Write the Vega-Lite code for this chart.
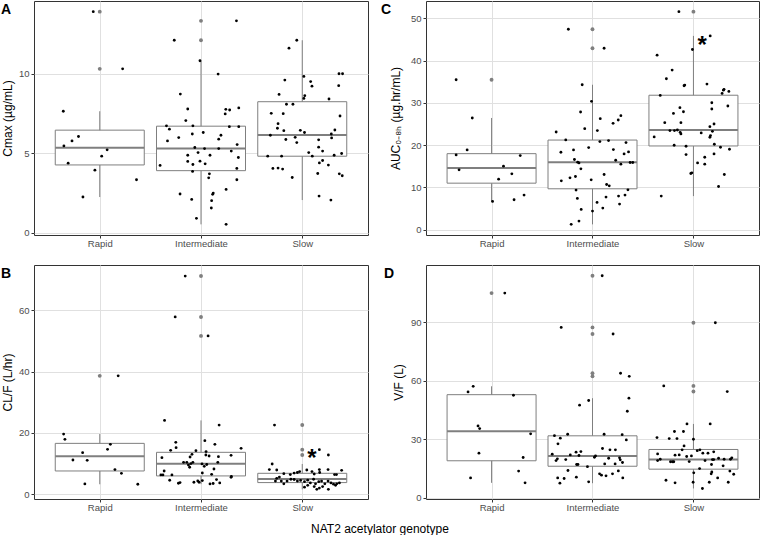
{
"$schema":"https://vega.github.io/schema/vega-lite/v6.json",
"padding":0,
"background":"#ffffff",
"title":{"text":"NAT2 acetylator genotype","orient":"bottom","anchor":"middle","frame":"bounds","fontSize":12,"fontWeight":"normal","font":"Liberation Sans","color":"#000000","offset":12},
"config":{
 "font":"Liberation Sans",
 "view":{"stroke":"#333333","strokeWidth":1},
 "axis":{"domain":false,"tickColor":"#333333","tickSize":3,"tickWidth":1,"labelFont":"Liberation Sans","labelFontSize":9.5,"labelColor":"#4d4d4d","titleFont":"Liberation Sans","titleFontSize":12,"titleFontWeight":"normal","titleColor":"#000000","gridColor":"#e0e0e0","gridWidth":1,"labelPadding":2,"titlePadding":4},
 "axisX":{"labelAngle":0,"labelPadding":0}
},
"datasets":{
"boxes":[
{"panel":"A","genotype":"Rapid","lo":2.24,"q1":4.26,"median":5.34,"q3":6.45,"hi":7.64},
{"panel":"A","genotype":"Intermediate","lo":0.52,"q1":3.9,"median":5.29,"q3":6.7,"hi":10.82},
{"panel":"A","genotype":"Slow","lo":2.05,"q1":4.81,"median":6.14,"q3":8.24,"hi":12.11},
{"panel":"C","genotype":"Rapid","lo":6.68,"q1":11.0,"median":14.6,"q3":17.98,"hi":26.42},
{"panel":"C","genotype":"Intermediate","lo":1.26,"q1":9.67,"median":15.95,"q3":21.2,"hi":34.28},
{"panel":"C","genotype":"Slow","lo":7.94,"q1":19.8,"median":23.6,"q3":31.8,"hi":45.83},
{"panel":"B","genotype":"Rapid","lo":3.25,"q1":7.59,"median":12.36,"q3":16.59,"hi":19.63},
{"panel":"B","genotype":"Intermediate","lo":3.3,"q1":5.97,"median":9.98,"q3":13.67,"hi":24.08},
{"panel":"B","genotype":"Slow","lo":1.6,"q1":3.8,"median":4.99,"q3":6.83,"hi":9.87},
{"panel":"D","genotype":"Rapid","lo":7.7,"q1":19.0,"median":34.2,"q3":52.9,"hi":57.2},
{"panel":"D","genotype":"Intermediate","lo":7.5,"q1":16.2,"median":21.5,"q3":31.8,"hi":51.1},
{"panel":"D","genotype":"Slow","lo":4.8,"q1":14.7,"median":19.6,"q3":24.8,"hi":37.9}
],
"outliers":[
{"panel":"A","genotype":"Rapid","value":10.31},{"panel":"A","genotype":"Rapid","value":13.91},
{"panel":"A","genotype":"Intermediate","value":12.11},{"panel":"A","genotype":"Intermediate","value":13.33},
{"panel":"C","genotype":"Rapid","value":35.46},{"panel":"C","genotype":"Intermediate","value":42.92},{"panel":"C","genotype":"Intermediate","value":47.41},{"panel":"C","genotype":"Slow","value":51.57},
{"panel":"B","genotype":"Rapid","value":38.6},{"panel":"B","genotype":"Intermediate","value":51.63},{"panel":"B","genotype":"Intermediate","value":57.81},{"panel":"B","genotype":"Intermediate","value":71.15},{"panel":"B","genotype":"Slow","value":12.8},{"panel":"B","genotype":"Slow","value":14.53},{"panel":"B","genotype":"Slow","value":22.56},
{"panel":"D","genotype":"Rapid","value":105.0},{"panel":"D","genotype":"Intermediate","value":62.3},{"panel":"D","genotype":"Intermediate","value":63.9},{"panel":"D","genotype":"Intermediate","value":84.0},{"panel":"D","genotype":"Intermediate","value":87.4},{"panel":"D","genotype":"Intermediate","value":113.9},{"panel":"D","genotype":"Slow","value":54.5},{"panel":"D","genotype":"Slow","value":57.4},{"panel":"D","genotype":"Slow","value":89.8}
],
"notes":[
{"panel":"C","genotype":"Slow","value":45.1,"jitter":0.086,"label":"*"},
{"panel":"B","genotype":"Slow","value":13.67,"jitter":0.096,"label":"*"}
],
"points":[
{"panel":"A","genotype":"Rapid","value":13.91,"jitter":-0.064},{"panel":"A","genotype":"Rapid","value":10.31,"jitter":0.226},{"panel":"A","genotype":"Rapid","value":7.64,"jitter":-0.36},{"panel":"A","genotype":"Rapid","value":5.46,"jitter":-0.354},{"panel":"A","genotype":"Rapid","value":5.77,"jitter":-0.274},{"panel":"A","genotype":"Rapid","value":6.05,"jitter":-0.21},{"panel":"A","genotype":"Rapid","value":4.37,"jitter":-0.312},{"panel":"A","genotype":"Rapid","value":4.81,"jitter":0.019},{"panel":"A","genotype":"Rapid","value":5.21,"jitter":0.073},{"panel":"A","genotype":"Rapid","value":3.93,"jitter":-0.048},{"panel":"A","genotype":"Rapid","value":2.24,"jitter":-0.166},{"panel":"A","genotype":"Rapid","value":3.33,"jitter":0.363},
{"panel":"A","genotype":"Intermediate","value":12.11,"jitter":-0.264},{"panel":"A","genotype":"Intermediate","value":10.82,"jitter":-0.01},{"panel":"A","genotype":"Intermediate","value":8.72,"jitter":-0.204},{"panel":"A","genotype":"Intermediate","value":7.78,"jitter":-0.131},{"panel":"A","genotype":"Intermediate","value":7.05,"jitter":-0.15},{"panel":"A","genotype":"Intermediate","value":6.72,"jitter":-0.341},{"panel":"A","genotype":"Intermediate","value":6.51,"jitter":-0.312},{"panel":"A","genotype":"Intermediate","value":6.72,"jitter":-0.08},{"panel":"A","genotype":"Intermediate","value":6.21,"jitter":-0.086},{"panel":"A","genotype":"Intermediate","value":5.98,"jitter":-0.22},{"panel":"A","genotype":"Intermediate","value":5.77,"jitter":-0.331},{"panel":"A","genotype":"Intermediate","value":5.36,"jitter":-0.061},{"panel":"A","genotype":"Intermediate","value":5.04,"jitter":-0.029},{"panel":"A","genotype":"Intermediate","value":4.87,"jitter":-0.131},{"panel":"A","genotype":"Intermediate","value":4.48,"jitter":-0.131},{"panel":"A","genotype":"Intermediate","value":4.29,"jitter":-0.08},{"panel":"A","genotype":"Intermediate","value":3.85,"jitter":-0.083},{"panel":"A","genotype":"Intermediate","value":4.23,"jitter":-0.404},{"panel":"A","genotype":"Intermediate","value":2.43,"jitter":-0.207},{"panel":"A","genotype":"Intermediate","value":2.09,"jitter":-0.092},{"panel":"A","genotype":"Intermediate","value":0.9,"jitter":-0.045},{"panel":"A","genotype":"Intermediate","value":13.33,"jitter":0.35},{"panel":"A","genotype":"Intermediate","value":9.98,"jitter":0.169},{"panel":"A","genotype":"Intermediate","value":7.76,"jitter":0.245},{"panel":"A","genotype":"Intermediate","value":7.72,"jitter":0.283},{"panel":"A","genotype":"Intermediate","value":7.85,"jitter":0.373},{"panel":"A","genotype":"Intermediate","value":7.47,"jitter":0.239},{"panel":"A","genotype":"Intermediate","value":6.67,"jitter":0.28},{"panel":"A","genotype":"Intermediate","value":6.67,"jitter":0.373},{"panel":"A","genotype":"Intermediate","value":6.3,"jitter":0.022},{"panel":"A","genotype":"Intermediate","value":6.13,"jitter":0.197},{"panel":"A","genotype":"Intermediate","value":5.88,"jitter":0.175},{"panel":"A","genotype":"Intermediate","value":5.54,"jitter":0.357},{"panel":"A","genotype":"Intermediate","value":5.29,"jitter":0.035},{"panel":"A","genotype":"Intermediate","value":5.29,"jitter":0.175},{"panel":"A","genotype":"Intermediate","value":5.13,"jitter":0.299},{"panel":"A","genotype":"Intermediate","value":4.87,"jitter":0.089},{"panel":"A","genotype":"Intermediate","value":4.73,"jitter":0.369},{"panel":"A","genotype":"Intermediate","value":4.5,"jitter":-0.01},{"panel":"A","genotype":"Intermediate","value":4.33,"jitter":0.041},{"panel":"A","genotype":"Intermediate","value":4.04,"jitter":0.354},{"panel":"A","genotype":"Intermediate","value":3.7,"jitter":0.083},{"panel":"A","genotype":"Intermediate","value":3.45,"jitter":0.076},{"panel":"A","genotype":"Intermediate","value":3.33,"jitter":0.354},{"panel":"A","genotype":"Intermediate","value":2.49,"jitter":0.121},{"panel":"A","genotype":"Intermediate","value":2.41,"jitter":0.115},{"panel":"A","genotype":"Intermediate","value":2.72,"jitter":0.248},{"panel":"A","genotype":"Intermediate","value":2.01,"jitter":0.105},{"panel":"A","genotype":"Intermediate","value":1.55,"jitter":0.102},{"panel":"A","genotype":"Intermediate","value":0.52,"jitter":0.248},
{"panel":"A","genotype":"Slow","value":12.11,"jitter":-0.054},{"panel":"A","genotype":"Slow","value":11.61,"jitter":-0.131},{"panel":"A","genotype":"Slow","value":9.83,"jitter":0.016},{"panel":"A","genotype":"Slow","value":9.6,"jitter":-0.172},{"panel":"A","genotype":"Slow","value":9.51,"jitter":0.083},{"panel":"A","genotype":"Slow","value":9.22,"jitter":0.096},{"panel":"A","genotype":"Slow","value":10.0,"jitter":0.363},{"panel":"A","genotype":"Slow","value":10.0,"jitter":0.398},{"panel":"A","genotype":"Slow","value":9.25,"jitter":0.36},{"panel":"A","genotype":"Slow","value":8.7,"jitter":-0.229},{"panel":"A","genotype":"Slow","value":8.62,"jitter":0.025},{"panel":"A","genotype":"Slow","value":8.45,"jitter":0.016},{"panel":"A","genotype":"Slow","value":8.08,"jitter":-0.156},{"panel":"A","genotype":"Slow","value":8.08,"jitter":-0.092},{"panel":"A","genotype":"Slow","value":8.41,"jitter":0.264},{"panel":"A","genotype":"Slow","value":7.51,"jitter":-0.306},{"panel":"A","genotype":"Slow","value":7.49,"jitter":-0.188},{"panel":"A","genotype":"Slow","value":6.86,"jitter":-0.239},{"panel":"A","genotype":"Slow","value":6.57,"jitter":-0.245},{"panel":"A","genotype":"Slow","value":6.42,"jitter":-0.182},{"panel":"A","genotype":"Slow","value":7.34,"jitter":0.373},{"panel":"A","genotype":"Slow","value":6.13,"jitter":-0.315},{"panel":"A","genotype":"Slow","value":6.44,"jitter":-0.019},{"panel":"A","genotype":"Slow","value":6.3,"jitter":0.022},{"panel":"A","genotype":"Slow","value":5.86,"jitter":-0.162},{"panel":"A","genotype":"Slow","value":6.0,"jitter":-0.07},{"panel":"A","genotype":"Slow","value":5.67,"jitter":-0.054},{"panel":"A","genotype":"Slow","value":6.21,"jitter":0.287},{"panel":"A","genotype":"Slow","value":6.46,"jitter":0.322},{"panel":"A","genotype":"Slow","value":5.96,"jitter":0.29},{"panel":"A","genotype":"Slow","value":5.84,"jitter":0.162},{"panel":"A","genotype":"Slow","value":5.38,"jitter":0.162},{"panel":"A","genotype":"Slow","value":5.04,"jitter":0.064},{"panel":"A","genotype":"Slow","value":5.13,"jitter":0.201},{"panel":"A","genotype":"Slow","value":4.81,"jitter":0.099},{"panel":"A","genotype":"Slow","value":4.81,"jitter":-0.204},{"panel":"A","genotype":"Slow","value":4.81,"jitter":-0.341},{"panel":"A","genotype":"Slow","value":4.87,"jitter":0.315},{"panel":"A","genotype":"Slow","value":4.98,"jitter":0.389},{"panel":"A","genotype":"Slow","value":4.54,"jitter":0.201},{"panel":"A","genotype":"Slow","value":4.39,"jitter":0.169},{"panel":"A","genotype":"Slow","value":4.25,"jitter":0.258},{"panel":"A","genotype":"Slow","value":4.04,"jitter":-0.29},{"panel":"A","genotype":"Slow","value":4.06,"jitter":-0.239},{"panel":"A","genotype":"Slow","value":4.0,"jitter":-0.194},{"panel":"A","genotype":"Slow","value":3.72,"jitter":0.153},{"panel":"A","genotype":"Slow","value":3.7,"jitter":0.366},{"panel":"A","genotype":"Slow","value":3.58,"jitter":0.395},{"panel":"A","genotype":"Slow","value":3.47,"jitter":-0.099},{"panel":"A","genotype":"Slow","value":2.3,"jitter":0.166},{"panel":"A","genotype":"Slow","value":2.05,"jitter":0.283},
{"panel":"C","genotype":"Rapid","value":35.46,"jitter":-0.351},{"panel":"C","genotype":"Rapid","value":26.42,"jitter":-0.191},{"panel":"C","genotype":"Rapid","value":18.87,"jitter":-0.242},{"panel":"C","genotype":"Rapid","value":17.69,"jitter":-0.351},{"panel":"C","genotype":"Rapid","value":14.15,"jitter":-0.322},{"panel":"C","genotype":"Rapid","value":15.02,"jitter":0.118},{"panel":"C","genotype":"Rapid","value":11.95,"jitter":0.07},{"panel":"C","genotype":"Rapid","value":13.21,"jitter":0.201},{"panel":"C","genotype":"Rapid","value":17.53,"jitter":0.284},{"panel":"C","genotype":"Rapid","value":6.68,"jitter":0.01},{"panel":"C","genotype":"Rapid","value":7.08,"jitter":0.223},{"panel":"C","genotype":"Rapid","value":8.18,"jitter":0.322},
{"panel":"C","genotype":"Intermediate","value":47.41,"jitter":-0.239},{"panel":"C","genotype":"Intermediate","value":34.28,"jitter":-0.102},{"panel":"C","genotype":"Intermediate","value":30.35,"jitter":-0.01},{"panel":"C","genotype":"Intermediate","value":27.83,"jitter":-0.118},{"panel":"C","genotype":"Intermediate","value":23.9,"jitter":-0.077},{"panel":"C","genotype":"Intermediate","value":23.11,"jitter":-0.36},{"panel":"C","genotype":"Intermediate","value":21.23,"jitter":-0.265},{"panel":"C","genotype":"Intermediate","value":18.32,"jitter":-0.313},{"panel":"C","genotype":"Intermediate","value":18.87,"jitter":-0.188},{"panel":"C","genotype":"Intermediate","value":19.42,"jitter":-0.038},{"panel":"C","genotype":"Intermediate","value":16.59,"jitter":-0.179},{"panel":"C","genotype":"Intermediate","value":15.96,"jitter":-0.147},{"panel":"C","genotype":"Intermediate","value":15.8,"jitter":-0.134},{"panel":"C","genotype":"Intermediate","value":14.39,"jitter":-0.115},{"panel":"C","genotype":"Intermediate","value":12.58,"jitter":-0.169},{"panel":"C","genotype":"Intermediate","value":11.56,"jitter":-0.309},{"panel":"C","genotype":"Intermediate","value":11.79,"jitter":-0.013},{"panel":"C","genotype":"Intermediate","value":9.36,"jitter":-0.163},{"panel":"C","genotype":"Intermediate","value":7.39,"jitter":-0.15},{"panel":"C","genotype":"Intermediate","value":4.8,"jitter":-0.112},{"panel":"C","genotype":"Intermediate","value":2.04,"jitter":-0.134},{"panel":"C","genotype":"Intermediate","value":1.26,"jitter":-0.211},{"panel":"C","genotype":"Intermediate","value":12.26,"jitter":-0.223},{"panel":"C","genotype":"Intermediate","value":42.92,"jitter":0.115},{"panel":"C","genotype":"Intermediate","value":26.26,"jitter":0.077},{"panel":"C","genotype":"Intermediate","value":26.97,"jitter":0.281},{"panel":"C","genotype":"Intermediate","value":25.94,"jitter":0.255},{"panel":"C","genotype":"Intermediate","value":25.16,"jitter":0.204},{"panel":"C","genotype":"Intermediate","value":23.43,"jitter":0.048},{"panel":"C","genotype":"Intermediate","value":21.07,"jitter":0.159},{"panel":"C","genotype":"Intermediate","value":20.6,"jitter":0.332},{"panel":"C","genotype":"Intermediate","value":20.83,"jitter":0.073},{"panel":"C","genotype":"Intermediate","value":18.95,"jitter":0.207},{"panel":"C","genotype":"Intermediate","value":18.4,"jitter":0.357},{"panel":"C","genotype":"Intermediate","value":17.92,"jitter":0.313},{"panel":"C","genotype":"Intermediate","value":16.43,"jitter":0.23},{"panel":"C","genotype":"Intermediate","value":15.49,"jitter":0.281},{"panel":"C","genotype":"Intermediate","value":15.88,"jitter":0.373},{"panel":"C","genotype":"Intermediate","value":15.88,"jitter":0.399},{"panel":"C","genotype":"Intermediate","value":13.05,"jitter":0.115},{"panel":"C","genotype":"Intermediate","value":10.69,"jitter":0.14},{"panel":"C","genotype":"Intermediate","value":10.38,"jitter":0.166},{"panel":"C","genotype":"Intermediate","value":9.43,"jitter":0.351},{"panel":"C","genotype":"Intermediate","value":8.18,"jitter":0.322},{"panel":"C","genotype":"Intermediate","value":7.94,"jitter":0.258},{"panel":"C","genotype":"Intermediate","value":7.7,"jitter":0.134},{"panel":"C","genotype":"Intermediate","value":6.45,"jitter":0.045},{"panel":"C","genotype":"Intermediate","value":6.05,"jitter":0.268},{"panel":"C","genotype":"Intermediate","value":5.11,"jitter":0.102},{"panel":"C","genotype":"Intermediate","value":4.4,"jitter":0.0},
{"panel":"C","genotype":"Slow","value":51.57,"jitter":-0.144},{"panel":"C","genotype":"Slow","value":45.83,"jitter":0.166},{"panel":"C","genotype":"Slow","value":42.61,"jitter":-0.01},{"panel":"C","genotype":"Slow","value":41.27,"jitter":-0.36},{"panel":"C","genotype":"Slow","value":37.74,"jitter":-0.211},{"panel":"C","genotype":"Slow","value":35.69,"jitter":-0.268},{"panel":"C","genotype":"Slow","value":34.04,"jitter":-0.093},{"panel":"C","genotype":"Slow","value":34.2,"jitter":-0.086},{"panel":"C","genotype":"Slow","value":34.43,"jitter":0.134},{"panel":"C","genotype":"Slow","value":31.76,"jitter":-0.329},{"panel":"C","genotype":"Slow","value":33.0,"jitter":0.297},{"panel":"C","genotype":"Slow","value":32.23,"jitter":0.284},{"panel":"C","genotype":"Slow","value":32.7,"jitter":0.351},{"panel":"C","genotype":"Slow","value":33.2,"jitter":0.303},{"panel":"C","genotype":"Slow","value":29.25,"jitter":0.341},{"panel":"C","genotype":"Slow","value":30.03,"jitter":0.182},{"panel":"C","genotype":"Slow","value":28.54,"jitter":0.182},{"panel":"C","genotype":"Slow","value":28.85,"jitter":-0.134},{"panel":"C","genotype":"Slow","value":27.9,"jitter":-0.099},{"panel":"C","genotype":"Slow","value":27.5,"jitter":-0.198},{"panel":"C","genotype":"Slow","value":25.31,"jitter":-0.284},{"panel":"C","genotype":"Slow","value":25.31,"jitter":-0.124},{"panel":"C","genotype":"Slow","value":25.0,"jitter":0.204},{"panel":"C","genotype":"Slow","value":24.37,"jitter":0.163},{"panel":"C","genotype":"Slow","value":23.43,"jitter":-0.233},{"panel":"C","genotype":"Slow","value":23.43,"jitter":-0.188},{"panel":"C","genotype":"Slow","value":23.58,"jitter":-0.159},{"panel":"C","genotype":"Slow","value":23.03,"jitter":-0.131},{"panel":"C","genotype":"Slow","value":22.64,"jitter":-0.124},{"panel":"C","genotype":"Slow","value":22.88,"jitter":0.077},{"panel":"C","genotype":"Slow","value":23.27,"jitter":0.188},{"panel":"C","genotype":"Slow","value":22.25,"jitter":0.169},{"panel":"C","genotype":"Slow","value":21.86,"jitter":0.163},{"panel":"C","genotype":"Slow","value":21.93,"jitter":-0.389},{"panel":"C","genotype":"Slow","value":20.2,"jitter":0.207},{"panel":"C","genotype":"Slow","value":19.97,"jitter":-0.191},{"panel":"C","genotype":"Slow","value":19.73,"jitter":-0.073},{"panel":"C","genotype":"Slow","value":19.5,"jitter":0.268},{"panel":"C","genotype":"Slow","value":19.02,"jitter":0.357},{"panel":"C","genotype":"Slow","value":17.77,"jitter":-0.073},{"panel":"C","genotype":"Slow","value":17.92,"jitter":0.204},{"panel":"C","genotype":"Slow","value":17.14,"jitter":0.112},{"panel":"C","genotype":"Slow","value":15.8,"jitter":0.041},{"panel":"C","genotype":"Slow","value":15.49,"jitter":0.112},{"panel":"C","genotype":"Slow","value":13.44,"jitter":-0.016},{"panel":"C","genotype":"Slow","value":13.29,"jitter":-0.026},{"panel":"C","genotype":"Slow","value":13.05,"jitter":0.306},{"panel":"C","genotype":"Slow","value":10.22,"jitter":0.249},{"panel":"C","genotype":"Slow","value":7.94,"jitter":-0.319},
{"panel":"B","genotype":"Rapid","value":38.6,"jitter":0.182},{"panel":"B","genotype":"Rapid","value":19.63,"jitter":-0.357},{"panel":"B","genotype":"Rapid","value":17.9,"jitter":-0.344},{"panel":"B","genotype":"Rapid","value":13.56,"jitter":-0.169},{"panel":"B","genotype":"Rapid","value":11.17,"jitter":-0.265},{"panel":"B","genotype":"Rapid","value":11.06,"jitter":-0.124},{"panel":"B","genotype":"Rapid","value":16.27,"jitter":0.105},{"panel":"B","genotype":"Rapid","value":14.64,"jitter":0.077},{"panel":"B","genotype":"Rapid","value":8.03,"jitter":0.15},{"panel":"B","genotype":"Rapid","value":6.83,"jitter":0.214},{"panel":"B","genotype":"Rapid","value":3.36,"jitter":-0.147},{"panel":"B","genotype":"Rapid","value":3.25,"jitter":0.376},
{"panel":"B","genotype":"Intermediate","value":71.15,"jitter":-0.156},{"panel":"B","genotype":"Intermediate","value":57.81,"jitter":-0.255},{"panel":"B","genotype":"Intermediate","value":24.08,"jitter":-0.36},{"panel":"B","genotype":"Intermediate","value":16.92,"jitter":-0.249},{"panel":"B","genotype":"Intermediate","value":15.18,"jitter":-0.246},{"panel":"B","genotype":"Intermediate","value":14.32,"jitter":-0.3},{"panel":"B","genotype":"Intermediate","value":13.02,"jitter":-0.089},{"panel":"B","genotype":"Intermediate","value":12.15,"jitter":-0.108},{"panel":"B","genotype":"Intermediate","value":11.93,"jitter":-0.386},{"panel":"B","genotype":"Intermediate","value":10.41,"jitter":-0.172},{"panel":"B","genotype":"Intermediate","value":10.41,"jitter":-0.14},{"panel":"B","genotype":"Intermediate","value":10.41,"jitter":-0.08},{"panel":"B","genotype":"Intermediate","value":9.54,"jitter":-0.124},{"panel":"B","genotype":"Intermediate","value":8.79,"jitter":-0.112},{"panel":"B","genotype":"Intermediate","value":7.59,"jitter":-0.364},{"panel":"B","genotype":"Intermediate","value":6.29,"jitter":-0.376},{"panel":"B","genotype":"Intermediate","value":6.29,"jitter":-0.396},{"panel":"B","genotype":"Intermediate","value":6.29,"jitter":-0.287},{"panel":"B","genotype":"Intermediate","value":4.56,"jitter":-0.309},{"panel":"B","genotype":"Intermediate","value":3.58,"jitter":-0.223},{"panel":"B","genotype":"Intermediate","value":3.8,"jitter":-0.207},{"panel":"B","genotype":"Intermediate","value":3.9,"jitter":-0.07},{"panel":"B","genotype":"Intermediate","value":4.34,"jitter":-0.032},{"panel":"B","genotype":"Intermediate","value":3.9,"jitter":-0.019},{"panel":"B","genotype":"Intermediate","value":51.63,"jitter":0.07},{"panel":"B","genotype":"Intermediate","value":22.56,"jitter":0.179},{"panel":"B","genotype":"Intermediate","value":17.46,"jitter":0.038},{"panel":"B","genotype":"Intermediate","value":16.27,"jitter":0.137},{"panel":"B","genotype":"Intermediate","value":14.97,"jitter":0.396},{"panel":"B","genotype":"Intermediate","value":12.8,"jitter":0.048},{"panel":"B","genotype":"Intermediate","value":12.47,"jitter":0.08},{"panel":"B","genotype":"Intermediate","value":12.26,"jitter":0.172},{"panel":"B","genotype":"Intermediate","value":12.69,"jitter":0.297},{"panel":"B","genotype":"Intermediate","value":10.41,"jitter":0.166},{"panel":"B","genotype":"Intermediate","value":9.9,"jitter":0.01},{"panel":"B","genotype":"Intermediate","value":9.1,"jitter":0.032},{"panel":"B","genotype":"Intermediate","value":9.7,"jitter":0.057},{"panel":"B","genotype":"Intermediate","value":8.24,"jitter":0.128},{"panel":"B","genotype":"Intermediate","value":6.94,"jitter":0.013},{"panel":"B","genotype":"Intermediate","value":6.5,"jitter":0.105},{"panel":"B","genotype":"Intermediate","value":5.53,"jitter":0.297},{"panel":"B","genotype":"Intermediate","value":4.45,"jitter":0.013},{"panel":"B","genotype":"Intermediate","value":4.77,"jitter":0.153},{"panel":"B","genotype":"Intermediate","value":3.69,"jitter":0.185},{"panel":"B","genotype":"Intermediate","value":3.36,"jitter":0.089},{"panel":"B","genotype":"Intermediate","value":13.9,"jitter":0.05},{"panel":"B","genotype":"Intermediate","value":10.0,"jitter":-0.1},{"panel":"B","genotype":"Intermediate","value":5.8,"jitter":0.3},{"panel":"B","genotype":"Intermediate","value":3.5,"jitter":0.12},{"panel":"B","genotype":"Intermediate","value":14.2,"jitter":-0.05},
{"panel":"B","genotype":"Slow","value":22.56,"jitter":-0.274},{"panel":"B","genotype":"Slow","value":14.53,"jitter":0.169},{"panel":"B","genotype":"Slow","value":12.8,"jitter":0.258},{"panel":"B","genotype":"Slow","value":9.87,"jitter":-0.297},{"panel":"B","genotype":"Slow","value":8.03,"jitter":-0.325},{"panel":"B","genotype":"Slow","value":7.9,"jitter":-0.252},{"panel":"B","genotype":"Slow","value":7.9,"jitter":0.045},{"panel":"B","genotype":"Slow","value":8.03,"jitter":0.169},{"panel":"B","genotype":"Slow","value":8.03,"jitter":0.255},{"panel":"B","genotype":"Slow","value":7.8,"jitter":0.389},{"panel":"B","genotype":"Slow","value":7.1,"jitter":-0.048},{"panel":"B","genotype":"Slow","value":6.9,"jitter":-0.08},{"panel":"B","genotype":"Slow","value":6.7,"jitter":-0.182},{"panel":"B","genotype":"Slow","value":6.4,"jitter":-0.118},{"panel":"B","genotype":"Slow","value":7.4,"jitter":-0.026},{"panel":"B","genotype":"Slow","value":7.4,"jitter":0.096},{"panel":"B","genotype":"Slow","value":6.6,"jitter":0.118},{"panel":"B","genotype":"Slow","value":7.1,"jitter":0.172},{"panel":"B","genotype":"Slow","value":6.4,"jitter":0.319},{"panel":"B","genotype":"Slow","value":6.4,"jitter":0.338},{"panel":"B","genotype":"Slow","value":5.2,"jitter":-0.252},{"panel":"B","genotype":"Slow","value":5.6,"jitter":-0.226},{"panel":"B","genotype":"Slow","value":4.3,"jitter":-0.207},{"panel":"B","genotype":"Slow","value":4.3,"jitter":-0.265},{"panel":"B","genotype":"Slow","value":3.4,"jitter":-0.182},{"panel":"B","genotype":"Slow","value":4.3,"jitter":-0.15},{"panel":"B","genotype":"Slow","value":4.9,"jitter":-0.112},{"panel":"B","genotype":"Slow","value":4.8,"jitter":-0.08},{"panel":"B","genotype":"Slow","value":4.3,"jitter":-0.048},{"panel":"B","genotype":"Slow","value":4.5,"jitter":-0.016},{"panel":"B","genotype":"Slow","value":4.1,"jitter":0.022},{"panel":"B","genotype":"Slow","value":4.6,"jitter":0.054},{"panel":"B","genotype":"Slow","value":3.7,"jitter":0.08},{"panel":"B","genotype":"Slow","value":4.9,"jitter":0.112},{"panel":"B","genotype":"Slow","value":3.4,"jitter":0.131},{"panel":"B","genotype":"Slow","value":4.1,"jitter":0.163},{"panel":"B","genotype":"Slow","value":4.3,"jitter":0.191},{"panel":"B","genotype":"Slow","value":3.4,"jitter":0.223},{"panel":"B","genotype":"Slow","value":4.3,"jitter":0.255},{"panel":"B","genotype":"Slow","value":3.7,"jitter":0.284},{"panel":"B","genotype":"Slow","value":3.3,"jitter":0.309},{"panel":"B","genotype":"Slow","value":3.4,"jitter":0.341},{"panel":"B","genotype":"Slow","value":3.7,"jitter":0.367},{"panel":"B","genotype":"Slow","value":2.3,"jitter":0.022},{"panel":"B","genotype":"Slow","value":2.9,"jitter":0.054},{"panel":"B","genotype":"Slow","value":2.5,"jitter":0.118},{"panel":"B","genotype":"Slow","value":1.6,"jitter":0.144},{"panel":"B","genotype":"Slow","value":2.0,"jitter":0.169},{"panel":"B","genotype":"Slow","value":2.5,"jitter":0.201},{"panel":"B","genotype":"Slow","value":1.6,"jitter":0.258},{"panel":"B","genotype":"Slow","value":2.9,"jitter":0.329},
{"panel":"D","genotype":"Rapid","value":105.0,"jitter":0.131},{"panel":"D","genotype":"Rapid","value":57.2,"jitter":-0.182},{"panel":"D","genotype":"Rapid","value":54.3,"jitter":-0.233},{"panel":"D","genotype":"Rapid","value":52.6,"jitter":0.217},{"panel":"D","genotype":"Rapid","value":36.9,"jitter":-0.134},{"panel":"D","genotype":"Rapid","value":35.5,"jitter":-0.118},{"panel":"D","genotype":"Rapid","value":22.9,"jitter":-0.125},{"panel":"D","genotype":"Rapid","value":32.8,"jitter":0.387},{"panel":"D","genotype":"Rapid","value":20.7,"jitter":0.313},{"panel":"D","genotype":"Rapid","value":13.7,"jitter":0.268},{"panel":"D","genotype":"Rapid","value":10.2,"jitter":-0.208},{"panel":"D","genotype":"Rapid","value":7.7,"jitter":0.332},
{"panel":"D","genotype":"Intermediate","value":87.4,"jitter":-0.31},{"panel":"D","genotype":"Intermediate","value":47.5,"jitter":-0.128},{"panel":"D","genotype":"Intermediate","value":49.9,"jitter":-0.038},{"panel":"D","genotype":"Intermediate","value":31.9,"jitter":-0.377},{"panel":"D","genotype":"Intermediate","value":30.6,"jitter":-0.319},{"panel":"D","genotype":"Intermediate","value":32.6,"jitter":-0.246},{"panel":"D","genotype":"Intermediate","value":27.7,"jitter":-0.342},{"panel":"D","genotype":"Intermediate","value":22.4,"jitter":-0.399},{"panel":"D","genotype":"Intermediate","value":19.1,"jitter":-0.361},{"panel":"D","genotype":"Intermediate","value":20.0,"jitter":-0.348},{"panel":"D","genotype":"Intermediate","value":19.6,"jitter":-0.265},{"panel":"D","genotype":"Intermediate","value":22.0,"jitter":-0.22},{"panel":"D","genotype":"Intermediate","value":23.4,"jitter":-0.163},{"panel":"D","genotype":"Intermediate","value":23.7,"jitter":-0.115},{"panel":"D","genotype":"Intermediate","value":21.7,"jitter":-0.134},{"panel":"D","genotype":"Intermediate","value":17.1,"jitter":-0.157},{"panel":"D","genotype":"Intermediate","value":17.1,"jitter":-0.144},{"panel":"D","genotype":"Intermediate","value":14.0,"jitter":-0.243},{"panel":"D","genotype":"Intermediate","value":10.2,"jitter":-0.345},{"panel":"D","genotype":"Intermediate","value":9.9,"jitter":-0.281},{"panel":"D","genotype":"Intermediate","value":10.6,"jitter":-0.16},{"panel":"D","genotype":"Intermediate","value":7.5,"jitter":-0.323},{"panel":"D","genotype":"Intermediate","value":8.2,"jitter":-0.038},{"panel":"D","genotype":"Intermediate","value":113.9,"jitter":0.096},{"panel":"D","genotype":"Intermediate","value":84.0,"jitter":0.204},{"panel":"D","genotype":"Intermediate","value":63.9,"jitter":0.278},{"panel":"D","genotype":"Intermediate","value":62.3,"jitter":0.364},{"panel":"D","genotype":"Intermediate","value":51.1,"jitter":0.361},{"panel":"D","genotype":"Intermediate","value":44.4,"jitter":0.345},{"panel":"D","genotype":"Intermediate","value":32.6,"jitter":0.115},{"panel":"D","genotype":"Intermediate","value":32.4,"jitter":0.294},{"panel":"D","genotype":"Intermediate","value":29.7,"jitter":0.335},{"panel":"D","genotype":"Intermediate","value":25.3,"jitter":0.099},{"panel":"D","genotype":"Intermediate","value":24.6,"jitter":0.173},{"panel":"D","genotype":"Intermediate","value":24.6,"jitter":0.227},{"panel":"D","genotype":"Intermediate","value":20.8,"jitter":0.019},{"panel":"D","genotype":"Intermediate","value":20.3,"jitter":0.16},{"panel":"D","genotype":"Intermediate","value":19.5,"jitter":0.275},{"panel":"D","genotype":"Intermediate","value":17.4,"jitter":0.121},{"panel":"D","genotype":"Intermediate","value":17.4,"jitter":0.224},{"panel":"D","genotype":"Intermediate","value":20.5,"jitter":0.268},{"panel":"D","genotype":"Intermediate","value":18.1,"jitter":0.297},{"panel":"D","genotype":"Intermediate","value":11.6,"jitter":0.089},{"panel":"D","genotype":"Intermediate","value":11.3,"jitter":0.134},{"panel":"D","genotype":"Intermediate","value":12.3,"jitter":0.07},{"panel":"D","genotype":"Intermediate","value":12.3,"jitter":0.198},{"panel":"D","genotype":"Intermediate","value":13.8,"jitter":0.256},{"panel":"D","genotype":"Intermediate","value":10.2,"jitter":0.3},{"panel":"D","genotype":"Intermediate","value":21.5,"jitter":0.03},{"panel":"D","genotype":"Intermediate","value":16.0,"jitter":-0.05},
{"panel":"D","genotype":"Slow","value":89.8,"jitter":0.217},{"panel":"D","genotype":"Slow","value":57.4,"jitter":-0.294},{"panel":"D","genotype":"Slow","value":54.5,"jitter":0.335},{"panel":"D","genotype":"Slow","value":37.9,"jitter":-0.064},{"panel":"D","genotype":"Slow","value":37.9,"jitter":0.166},{"panel":"D","genotype":"Slow","value":30.9,"jitter":-0.361},{"panel":"D","genotype":"Slow","value":30.4,"jitter":-0.24},{"panel":"D","genotype":"Slow","value":34.0,"jitter":-0.188},{"panel":"D","genotype":"Slow","value":34.0,"jitter":-0.099},{"panel":"D","genotype":"Slow","value":30.4,"jitter":-0.163},{"panel":"D","genotype":"Slow","value":30.05,"jitter":0.0},{"panel":"D","genotype":"Slow","value":26.6,"jitter":-0.093},{"panel":"D","genotype":"Slow","value":24.6,"jitter":-0.112},{"panel":"D","genotype":"Slow","value":22.0,"jitter":-0.141},{"panel":"D","genotype":"Slow","value":21.9,"jitter":-0.182},{"panel":"D","genotype":"Slow","value":22.5,"jitter":-0.355},{"panel":"D","genotype":"Slow","value":19.1,"jitter":-0.355},{"panel":"D","genotype":"Slow","value":19.8,"jitter":-0.329},{"panel":"D","genotype":"Slow","value":18.5,"jitter":-0.227},{"panel":"D","genotype":"Slow","value":18.5,"jitter":-0.208},{"panel":"D","genotype":"Slow","value":18.5,"jitter":-0.195},{"panel":"D","genotype":"Slow","value":21.2,"jitter":-0.067},{"panel":"D","genotype":"Slow","value":18.6,"jitter":-0.042},{"panel":"D","genotype":"Slow","value":24.2,"jitter":0.038},{"panel":"D","genotype":"Slow","value":24.6,"jitter":0.064},{"panel":"D","genotype":"Slow","value":22.9,"jitter":0.093},{"panel":"D","genotype":"Slow","value":22.9,"jitter":0.144},{"panel":"D","genotype":"Slow","value":23.6,"jitter":0.201},{"panel":"D","genotype":"Slow","value":19.1,"jitter":0.115},{"panel":"D","genotype":"Slow","value":19.6,"jitter":0.188},{"panel":"D","genotype":"Slow","value":19.6,"jitter":0.201},{"panel":"D","genotype":"Slow","value":20.3,"jitter":0.249},{"panel":"D","genotype":"Slow","value":19.8,"jitter":0.304},{"panel":"D","genotype":"Slow","value":20.5,"jitter":0.38},{"panel":"D","genotype":"Slow","value":19.8,"jitter":0.367},{"panel":"D","genotype":"Slow","value":17.1,"jitter":0.179},{"panel":"D","genotype":"Slow","value":16.4,"jitter":0.294},{"panel":"D","genotype":"Slow","value":15.0,"jitter":0.061},{"panel":"D","genotype":"Slow","value":13.3,"jitter":0.182},{"panel":"D","genotype":"Slow","value":12.3,"jitter":0.176},{"panel":"D","genotype":"Slow","value":13.7,"jitter":0.361},{"panel":"D","genotype":"Slow","value":12.1,"jitter":0.399},{"panel":"D","genotype":"Slow","value":12.8,"jitter":0.003},{"panel":"D","genotype":"Slow","value":10.2,"jitter":0.24},{"panel":"D","genotype":"Slow","value":9.0,"jitter":-0.272},{"panel":"D","genotype":"Slow","value":7.7,"jitter":-0.182},{"panel":"D","genotype":"Slow","value":8.0,"jitter":-0.003},{"panel":"D","genotype":"Slow","value":8.0,"jitter":0.157},{"panel":"D","genotype":"Slow","value":8.0,"jitter":0.345},{"panel":"D","genotype":"Slow","value":4.8,"jitter":0.089},{"panel":"D","genotype":"Slow","value":21.5,"jitter":-0.02}
]
},
"columns":2,
"bounds":"flush",
"spacing":{"row":30,"column":58},
"concat":[
{
 "width":334,"height":234,
 "title":{"text":"A","anchor":"start","frame":"group","orient":"top","offset":0,"dx":-33,"dy":16,"fontSize":14,"fontWeight":"bold","font":"Liberation Sans","color":"#000000"},
 "layer":[
  {"data":{"name":"boxes"},"transform":[{"filter":"datum.panel === 'A'"},{"calculate":"indexof(['Rapid','Intermediate','Slow'], datum.genotype) + 1","as":"xpos"}],
   "mark":{"type":"rule","color":"#7f7f7f","strokeWidth":1},
   "encoding":{"x":{"field":"xpos","type":"quantitative","title":null,"scale":{"domain":[0.4,3.6],"nice":false,"zero":false},"axis":{"values":[1,2,3],"labelExpr":"datum.value == 1 ? 'Rapid' : datum.value == 2 ? 'Intermediate' : 'Slow'"}},
    "y":{"field":"lo","type":"quantitative","title":"Cmax (µg/mL)","scale":{"domain":[-0.15,14.58],"nice":false,"zero":false},"axis":{"values":[0,5,10]}},"y2":{"field":"hi"}}},
  {"data":{"name":"boxes"},"transform":[{"filter":"datum.panel === 'A'"},{"calculate":"indexof(['Rapid','Intermediate','Slow'], datum.genotype) + 1","as":"xpos"}],
   "mark":{"type":"bar","size":89,"fill":"#ffffff","stroke":"#7f7f7f","strokeWidth":1},
   "encoding":{"x":{"field":"xpos","type":"quantitative","title":null},"y":{"field":"q1","type":"quantitative","title":"Cmax (µg/mL)"},"y2":{"field":"q3"}}},
  {"data":{"name":"boxes"},"transform":[{"filter":"datum.panel === 'A'"},{"calculate":"indexof(['Rapid','Intermediate','Slow'], datum.genotype) + 1","as":"xpos"}],
   "mark":{"type":"tick","orient":"horizontal","size":89,"thickness":2,"color":"#7f7f7f","opacity":1},
   "encoding":{"x":{"field":"xpos","type":"quantitative","title":null},"y":{"field":"median","type":"quantitative","title":"Cmax (µg/mL)"}}},
  {"data":{"name":"outliers"},"transform":[{"filter":"datum.panel === 'A'"},{"calculate":"indexof(['Rapid','Intermediate','Slow'], datum.genotype) + 1","as":"xpos"}],
   "mark":{"type":"circle","size":15,"color":"#7f7f7f","opacity":1},
   "encoding":{"x":{"field":"xpos","type":"quantitative","title":null},"y":{"field":"value","type":"quantitative","title":"Cmax (µg/mL)"}}},
  {"data":{"name":"points"},"transform":[{"filter":"datum.panel === 'A'"},{"calculate":"indexof(['Rapid','Intermediate','Slow'], datum.genotype) + 1 + datum.jitter","as":"xpos"}],
   "mark":{"type":"circle","size":8,"color":"#000000","opacity":1},
   "encoding":{"x":{"field":"xpos","type":"quantitative","title":null},"y":{"field":"value","type":"quantitative","title":"Cmax (µg/mL)"}}}
 ]
},
{
 "width":333,"height":234,
 "title":{"text":"C","anchor":"start","frame":"group","orient":"top","offset":0,"dx":-45,"dy":16,"fontSize":14,"fontWeight":"bold","font":"Liberation Sans","color":"#000000"},
 "layer":[
  {"data":{"name":"boxes"},"transform":[{"filter":"datum.panel === 'C'"},{"calculate":"indexof(['Rapid','Intermediate','Slow'], datum.genotype) + 1","as":"xpos"}],
   "mark":{"type":"rule","color":"#7f7f7f","strokeWidth":1},
   "encoding":{"x":{"field":"xpos","type":"quantitative","title":null,"scale":{"domain":[0.4,3.6],"nice":false,"zero":false},"axis":{"values":[1,2,3],"labelExpr":"datum.value == 1 ? 'Rapid' : datum.value == 2 ? 'Intermediate' : 'Slow'"}},
    "y":{"field":"lo","type":"quantitative","title":"AUC₀₋₈ₕ (µg.hr/mL)","scale":{"domain":[-1.26,54.09],"nice":false,"zero":false},"axis":{"values":[0,10,20,30,40,50],"titlePadding":8}},"y2":{"field":"hi"}}},
  {"data":{"name":"boxes"},"transform":[{"filter":"datum.panel === 'C'"},{"calculate":"indexof(['Rapid','Intermediate','Slow'], datum.genotype) + 1","as":"xpos"}],
   "mark":{"type":"bar","size":89,"fill":"#ffffff","stroke":"#7f7f7f","strokeWidth":1},
   "encoding":{"x":{"field":"xpos","type":"quantitative","title":null},"y":{"field":"q1","type":"quantitative","title":"AUC₀₋₈ₕ (µg.hr/mL)"},"y2":{"field":"q3"}}},
  {"data":{"name":"boxes"},"transform":[{"filter":"datum.panel === 'C'"},{"calculate":"indexof(['Rapid','Intermediate','Slow'], datum.genotype) + 1","as":"xpos"}],
   "mark":{"type":"tick","orient":"horizontal","size":89,"thickness":2,"color":"#7f7f7f","opacity":1},
   "encoding":{"x":{"field":"xpos","type":"quantitative","title":null},"y":{"field":"median","type":"quantitative","title":"AUC₀₋₈ₕ (µg.hr/mL)"}}},
  {"data":{"name":"outliers"},"transform":[{"filter":"datum.panel === 'C'"},{"calculate":"indexof(['Rapid','Intermediate','Slow'], datum.genotype) + 1","as":"xpos"}],
   "mark":{"type":"circle","size":15,"color":"#7f7f7f","opacity":1},
   "encoding":{"x":{"field":"xpos","type":"quantitative","title":null},"y":{"field":"value","type":"quantitative","title":"AUC₀₋₈ₕ (µg.hr/mL)"}}},
  {"data":{"name":"points"},"transform":[{"filter":"datum.panel === 'C'"},{"calculate":"indexof(['Rapid','Intermediate','Slow'], datum.genotype) + 1 + datum.jitter","as":"xpos"}],
   "mark":{"type":"circle","size":8,"color":"#000000","opacity":1},
   "encoding":{"x":{"field":"xpos","type":"quantitative","title":null},"y":{"field":"value","type":"quantitative","title":"AUC₀₋₈ₕ (µg.hr/mL)"}}},
  {"data":{"name":"notes"},"transform":[{"filter":"datum.panel === 'C'"},{"calculate":"indexof(['Rapid','Intermediate','Slow'], datum.genotype) + 1 + datum.jitter","as":"xpos"}],
   "mark":{"type":"text","fontSize":24,"fontWeight":"bold","font":"Liberation Sans","color":"#000000","baseline":"middle","align":"center","dy":7},
   "encoding":{"x":{"field":"xpos","type":"quantitative","title":null},"y":{"field":"value","type":"quantitative","title":"AUC₀₋₈ₕ (µg.hr/mL)"},"text":{"field":"label"}}}
 ]
},
{
 "width":334,"height":234,
 "title":{"text":"B","anchor":"start","frame":"group","orient":"top","offset":0,"dx":-33,"dy":16,"fontSize":14,"fontWeight":"bold","font":"Liberation Sans","color":"#000000"},
 "layer":[
  {"data":{"name":"boxes"},"transform":[{"filter":"datum.panel === 'B'"},{"calculate":"indexof(['Rapid','Intermediate','Slow'], datum.genotype) + 1","as":"xpos"}],
   "mark":{"type":"rule","color":"#7f7f7f","strokeWidth":1},
   "encoding":{"x":{"field":"xpos","type":"quantitative","title":null,"scale":{"domain":[0.4,3.6],"nice":false,"zero":false},"axis":{"values":[1,2,3],"labelExpr":"datum.value == 1 ? 'Rapid' : datum.value == 2 ? 'Intermediate' : 'Slow'"}},
    "y":{"field":"lo","type":"quantitative","title":"CL/F (L/hr)","scale":{"domain":[-1.55,74.75],"nice":false,"zero":false},"axis":{"values":[0,20,40,60]}},"y2":{"field":"hi"}}},
  {"data":{"name":"boxes"},"transform":[{"filter":"datum.panel === 'B'"},{"calculate":"indexof(['Rapid','Intermediate','Slow'], datum.genotype) + 1","as":"xpos"}],
   "mark":{"type":"bar","size":89,"fill":"#ffffff","stroke":"#7f7f7f","strokeWidth":1},
   "encoding":{"x":{"field":"xpos","type":"quantitative","title":null},"y":{"field":"q1","type":"quantitative","title":"CL/F (L/hr)"},"y2":{"field":"q3"}}},
  {"data":{"name":"boxes"},"transform":[{"filter":"datum.panel === 'B'"},{"calculate":"indexof(['Rapid','Intermediate','Slow'], datum.genotype) + 1","as":"xpos"}],
   "mark":{"type":"tick","orient":"horizontal","size":89,"thickness":2,"color":"#7f7f7f","opacity":1},
   "encoding":{"x":{"field":"xpos","type":"quantitative","title":null},"y":{"field":"median","type":"quantitative","title":"CL/F (L/hr)"}}},
  {"data":{"name":"outliers"},"transform":[{"filter":"datum.panel === 'B'"},{"calculate":"indexof(['Rapid','Intermediate','Slow'], datum.genotype) + 1","as":"xpos"}],
   "mark":{"type":"circle","size":15,"color":"#7f7f7f","opacity":1},
   "encoding":{"x":{"field":"xpos","type":"quantitative","title":null},"y":{"field":"value","type":"quantitative","title":"CL/F (L/hr)"}}},
  {"data":{"name":"points"},"transform":[{"filter":"datum.panel === 'B'"},{"calculate":"indexof(['Rapid','Intermediate','Slow'], datum.genotype) + 1 + datum.jitter","as":"xpos"}],
   "mark":{"type":"circle","size":8,"color":"#000000","opacity":1},
   "encoding":{"x":{"field":"xpos","type":"quantitative","title":null},"y":{"field":"value","type":"quantitative","title":"CL/F (L/hr)"}}},
  {"data":{"name":"notes"},"transform":[{"filter":"datum.panel === 'B'"},{"calculate":"indexof(['Rapid','Intermediate','Slow'], datum.genotype) + 1 + datum.jitter","as":"xpos"}],
   "mark":{"type":"text","fontSize":24,"fontWeight":"bold","font":"Liberation Sans","color":"#000000","baseline":"middle","align":"center","dy":7},
   "encoding":{"x":{"field":"xpos","type":"quantitative","title":null},"y":{"field":"value","type":"quantitative","title":"CL/F (L/hr)"},"text":{"field":"label"}}}
 ]
},
{
 "width":333,"height":234,
 "title":{"text":"D","anchor":"start","frame":"group","orient":"top","offset":0,"dx":-42,"dy":16,"fontSize":14,"fontWeight":"bold","font":"Liberation Sans","color":"#000000"},
 "layer":[
  {"data":{"name":"boxes"},"transform":[{"filter":"datum.panel === 'D'"},{"calculate":"indexof(['Rapid','Intermediate','Slow'], datum.genotype) + 1","as":"xpos"}],
   "mark":{"type":"rule","color":"#7f7f7f","strokeWidth":1},
   "encoding":{"x":{"field":"xpos","type":"quantitative","title":null,"scale":{"domain":[0.4,3.6],"nice":false,"zero":false},"axis":{"values":[1,2,3],"labelExpr":"datum.value == 1 ? 'Rapid' : datum.value == 2 ? 'Intermediate' : 'Slow'"}},
    "y":{"field":"lo","type":"quantitative","title":"V/F (L)","scale":{"domain":[-0.6,119.4],"nice":false,"zero":false},"axis":{"values":[0,30,60,90],"titlePadding":5}},"y2":{"field":"hi"}}},
  {"data":{"name":"boxes"},"transform":[{"filter":"datum.panel === 'D'"},{"calculate":"indexof(['Rapid','Intermediate','Slow'], datum.genotype) + 1","as":"xpos"}],
   "mark":{"type":"bar","size":89,"fill":"#ffffff","stroke":"#7f7f7f","strokeWidth":1},
   "encoding":{"x":{"field":"xpos","type":"quantitative","title":null},"y":{"field":"q1","type":"quantitative","title":"V/F (L)"},"y2":{"field":"q3"}}},
  {"data":{"name":"boxes"},"transform":[{"filter":"datum.panel === 'D'"},{"calculate":"indexof(['Rapid','Intermediate','Slow'], datum.genotype) + 1","as":"xpos"}],
   "mark":{"type":"tick","orient":"horizontal","size":89,"thickness":2,"color":"#7f7f7f","opacity":1},
   "encoding":{"x":{"field":"xpos","type":"quantitative","title":null},"y":{"field":"median","type":"quantitative","title":"V/F (L)"}}},
  {"data":{"name":"outliers"},"transform":[{"filter":"datum.panel === 'D'"},{"calculate":"indexof(['Rapid','Intermediate','Slow'], datum.genotype) + 1","as":"xpos"}],
   "mark":{"type":"circle","size":15,"color":"#7f7f7f","opacity":1},
   "encoding":{"x":{"field":"xpos","type":"quantitative","title":null},"y":{"field":"value","type":"quantitative","title":"V/F (L)"}}},
  {"data":{"name":"points"},"transform":[{"filter":"datum.panel === 'D'"},{"calculate":"indexof(['Rapid','Intermediate','Slow'], datum.genotype) + 1 + datum.jitter","as":"xpos"}],
   "mark":{"type":"circle","size":8,"color":"#000000","opacity":1},
   "encoding":{"x":{"field":"xpos","type":"quantitative","title":null},"y":{"field":"value","type":"quantitative","title":"V/F (L)"}}}
 ]
}
]
}
